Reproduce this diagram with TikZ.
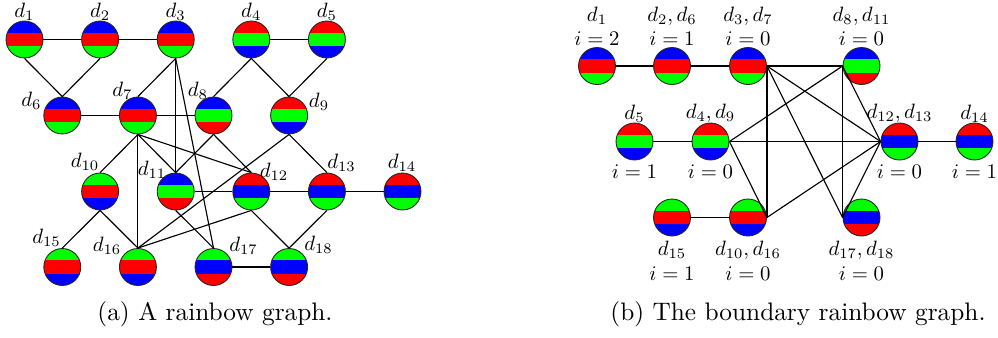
\documentclass[tikz,border=0pt]{standalone}
\definecolor{rbR}{RGB}{255,0,0}
\definecolor{rbG}{RGB}{0,255,0}
\definecolor{rbB}{RGB}{0,0,255}
\tikzset{
  rbc/.style={circle, draw=black!85, line width=0.35pt, minimum size=14.6pt, inner sep=0pt},
  edge/.style={line width=0.45pt, black},
  lab/.style={inner sep=0pt, scale=0.82, transform shape},
  captxt/.style={inner sep=0pt},
}
\newcommand{\rbn}[6]{%
  \begin{scope}
    \clip (#2,#3) circle[radius=7.3pt];
    \fill[#4] (#2-20,#3-20) rectangle (#2+20,#3-6.5);
    \fill[#5] (#2-20,#3-6.6) rectangle (#2+20,#3+6.6);
    \fill[#6] (#2-20,#3+6.5) rectangle (#2+20,#3+20);
  \end{scope}
  \node[rbc] (#1) at (#2,#3) {};
}
\begin{document}
\begin{tikzpicture}[x=0.395pt, y=-0.395pt]
\useasboundingbox (0,0) rectangle (998,337);
% ---------- (a) ----------
\rbn{a1}{24.5}{39.5}{rbB}{rbR}{rbG}
\rbn{a2}{100.1}{39.5}{rbB}{rbR}{rbG}
\rbn{a3}{175.7}{39.5}{rbB}{rbR}{rbG}
\rbn{a4}{251.3}{39.5}{rbR}{rbG}{rbB}
\rbn{a5}{326.9}{39.5}{rbR}{rbG}{rbB}
\rbn{a6}{62.3}{115.5}{rbB}{rbR}{rbG}
\rbn{a7}{137.9}{115.5}{rbB}{rbR}{rbG}
\rbn{a8}{213.5}{115.5}{rbB}{rbG}{rbR}
\rbn{a9}{289.1}{115.5}{rbR}{rbG}{rbB}
\rbn{a10}{100.1}{191.5}{rbG}{rbR}{rbB}
\rbn{a11}{175.7}{191.5}{rbB}{rbG}{rbR}
\rbn{a12}{251.3}{191.5}{rbR}{rbB}{rbG}
\rbn{a13}{326.9}{191.5}{rbR}{rbB}{rbG}
\rbn{a14}{402.5}{191.5}{rbR}{rbB}{rbG}
\rbn{a15}{62.3}{267}{rbG}{rbR}{rbB}
\rbn{a16}{137.9}{267}{rbG}{rbR}{rbB}
\rbn{a17}{213.5}{267}{rbG}{rbB}{rbR}
\rbn{a18}{289.1}{267}{rbG}{rbB}{rbR}

\draw[edge] (a1.east) -- (a2.west);
\draw[edge] (a2.east) -- (a3.west);
\draw[edge] (a4.east) -- (a5.west);
\draw[edge] (a1.south) -- (a6.north);
\draw[edge] (a2.south) -- (a6.north);
\draw[edge] (a3.south) -- (a7.north);
\draw[edge] (a3.south) -- (a11.north);
\draw[edge] (a3.south) -- (a17.north);
\draw[edge] (a4.south) -- (a8.north);
\draw[edge] (a4.south) -- (a9.north);
\draw[edge] (a5.south) -- (a9.north);
\draw[edge] (a6.east) -- (a7.west);
\draw[edge] (a7.east) -- (a8.west);
\draw[edge] (a7.south) -- (a10.north);
\draw[edge] (a7.south) -- (a16.north);
\draw[edge] (a7.south) -- (a11.north);
\draw[edge] (a7.south) -- (a12.north);
\draw[edge] (a8.south) -- (a11.north);
\draw[edge] (a8.south) -- (a12.north);
\draw[edge] (a9.south) -- (a16.north);
\draw[edge] (a9.south) -- (a13.north);
\draw[edge] (a10.south) -- (a15.north);
\draw[edge] (a10.south) -- (a16.north);
\draw[edge] (a11.east) -- (a12.west);
\draw[edge] (a12.east) -- (a13.west);
\draw[edge] (a13.east) -- (a14.west);
\draw[edge] (a11.south) -- (a17.north);
\draw[edge] (a12.south) -- (a16.north);
\draw[edge] (a12.south) -- (a18.north);
\draw[edge] (a13.south) -- (a18.north);
\draw[edge] (a17.east) -- (a18.west);

\node[lab] (la1) at (24.5,11.5) {$d_1$};
\node[lab] (la2) at (100.1,11.5) {$d_2$};
\node[lab] (la3) at (175.7,11.5) {$d_3$};
\node[lab] (la4) at (251.3,11.5) {$d_4$};
\node[lab] (la5) at (326.9,11.5) {$d_5$};
\node[lab] (la6) at (31.5,101) {$d_6$};
\node[lab] (la7) at (122.5,91) {$d_7$};
\node[lab] (la8) at (198,91) {$d_8$};
\node[lab] (la9) at (319,101.5) {$d_9$};
\node[lab] (la10) at (85,161.5) {$d_{10}$};
\node[lab] (la11) at (152,169.5) {$d_{11}$};
\node[lab] (la12) at (274,171.5) {$d_{12}$};
\node[lab] (la13) at (341.5,162.5) {$d_{13}$};
\node[lab] (la14) at (402,162.5) {$d_{14}$};
\node[lab] (la15) at (46.5,237.5) {$d_{15}$};
\node[lab] (la16) at (107,245.5) {$d_{16}$};
\node[lab] (la17) at (243.5,245.5) {$d_{17}$};
\node[lab] (la18) at (318.5,245) {$d_{18}$};

% ---------- (b) ----------
\rbn{b1}{597}{66}{rbB}{rbR}{rbG}
\rbn{b26}{672}{66}{rbB}{rbR}{rbG}
\rbn{b37}{748}{66}{rbB}{rbR}{rbG}
\rbn{b811}{861.5}{66}{rbB}{rbG}{rbR}
\rbn{b5}{634.5}{141.5}{rbR}{rbG}{rbB}
\rbn{b49}{710.5}{141.5}{rbR}{rbG}{rbB}
\rbn{b1213}{899.5}{141.5}{rbR}{rbB}{rbG}
\rbn{b14}{974.5}{141.5}{rbR}{rbB}{rbG}
\rbn{b15}{672}{217.5}{rbG}{rbR}{rbB}
\rbn{b1016}{748}{217.5}{rbG}{rbR}{rbB}
\rbn{b1718}{861.5}{217.5}{rbG}{rbB}{rbR}

\draw[edge] (b1.east) -- (b26.west);
\draw[edge] (b26.east) -- (b37.west);
\draw[edge] (b37.east) -- (b811.west);
\draw[edge] (b37.east) -- (b1213.west);
\draw[edge] (b37.east) -- (b1718.west);
\draw[edge] (b37.east) -- (b1016.east);
\draw[edge] (b5.east) -- (b49.west);
\draw[edge] (b49.east) -- (b811.west);
\draw[edge] (b49.east) -- (b1213.west);
\draw[edge] (b49.east) -- (b1016.east);
\draw[edge] (b811.west) -- (b1213.west);
\draw[edge] (b811.west) -- (b1718.west);
\draw[edge] (b1213.east) -- (b14.west);
\draw[edge] (b1016.east) -- (b1213.west);
\draw[edge] (b1718.west) -- (b1213.west);
\draw[edge] (b15.east) -- (b1016.west);

\node[lab] (lb1n) at (597,16) {$d_1$};
\node[lab] (lb1i) at (597,38.5) {$i=2$};
\node[lab] (lb26n) at (672,16) {$d_2, d_6$};
\node[lab] (lb26i) at (672,38.5) {$i=1$};
\node[lab] (lb37n) at (748,16) {$d_3, d_7$};
\node[lab] (lb37i) at (748,38.5) {$i=0$};
\node[lab] (lb811n) at (861.5,16) {$d_8, d_{11}$};
\node[lab] (lb811i) at (861.5,38.5) {$i=0$};
\node[lab] (lb5n) at (634.5,113.5) {$d_5$};
\node[lab] (lb5i) at (634.5,171.5) {$i=1$};
\node[lab] (lb49n) at (710.5,113.5) {$d_4, d_9$};
\node[lab] (lb49i) at (710.5,171.5) {$i=0$};
\node[lab] (lb1213n) at (899.5,113.5) {$d_{12}, d_{13}$};
\node[lab] (lb1213i) at (899.5,171.5) {$i=0$};
\node[lab] (lb14n) at (974.5,113.5) {$d_{14}$};
\node[lab] (lb14i) at (974.5,171.5) {$i=1$};
\node[lab] (lb15n) at (672,250) {$d_{15}$};
\node[lab] (lb15i) at (672,274) {$i=1$};
\node[lab] (lb1016n) at (748,250) {$d_{10}, d_{16}$};
\node[lab] (lb1016i) at (748,274) {$i=0$};
\node[lab] (lb1718n) at (861.5,250) {$d_{17}, d_{18}$};
\node[lab] (lb1718i) at (861.5,274) {$i=0$};

% ---------- captions ----------
\node[captxt] (capa) at (215,314) {(a) A rainbow graph.};
\node[captxt] (capb) at (798,314) {(b) The boundary rainbow graph.};
\end{tikzpicture}
\end{document}
